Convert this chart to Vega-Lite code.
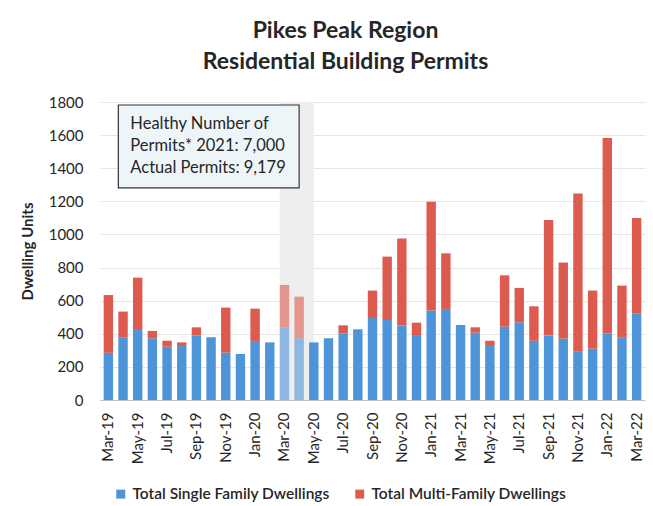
{
  "$schema": "https://vega.github.io/schema/vega-lite/v6.json",
  "autosize": "none",
  "width": 545,
  "height": 298,
  "padding": {"left": 100, "top": 102, "right": 8, "bottom": 106},
  "background": "white",
  "config": {
    "font": "Lato",
    "view": {"stroke": null},
    "axis": {"labelFont": "Lato", "titleFont": "Lato"},
    "axisX": {
      "title": null,
      "labelAngle": 270,
      "labelFontSize": 15,
      "labelColor": "#262626",
      "labelPadding": 12,
      "labelOverlap": false,
      "ticks": false,
      "domainColor": "#bfbfbf"
    },
    "axisY": {
      "titleFontSize": 15,
      "titleFontWeight": "bold",
      "titleColor": "#262626",
      "titlePadding": 13,
      "format": "d",
      "tickCount": 12,
      "labelOverlap": false,
      "labelFontSize": 15,
      "labelColor": "#262626",
      "labelPadding": 17,
      "ticks": false,
      "domain": false,
      "gridColor": "#e6e6e6"
    }
  },
  "title": {
    "text": ["Pikes Peak Region", "Residential Building Permits"],
    "fontSize": 23,
    "fontWeight": "bold",
    "color": "#262626",
    "lineHeight": 31,
    "anchor": "middle",
    "dx": -27,
    "offset": 21
  },
  "datasets": {
    "permits": [
      {"month": "Mar-19", "type": "Total Single Family Dwellings", "units": 285},
      {"month": "Mar-19", "type": "Total Multi-Family Dwellings", "units": 349},
      {"month": "Apr-19", "type": "Total Single Family Dwellings", "units": 379},
      {"month": "Apr-19", "type": "Total Multi-Family Dwellings", "units": 155},
      {"month": "May-19", "type": "Total Single Family Dwellings", "units": 429},
      {"month": "May-19", "type": "Total Multi-Family Dwellings", "units": 310},
      {"month": "Jun-19", "type": "Total Single Family Dwellings", "units": 373},
      {"month": "Jun-19", "type": "Total Multi-Family Dwellings", "units": 44},
      {"month": "Jul-19", "type": "Total Single Family Dwellings", "units": 322},
      {"month": "Jul-19", "type": "Total Multi-Family Dwellings", "units": 36},
      {"month": "Aug-19", "type": "Total Single Family Dwellings", "units": 326},
      {"month": "Aug-19", "type": "Total Multi-Family Dwellings", "units": 22},
      {"month": "Sep-19", "type": "Total Single Family Dwellings", "units": 389},
      {"month": "Sep-19", "type": "Total Multi-Family Dwellings", "units": 50},
      {"month": "Oct-19", "type": "Total Single Family Dwellings", "units": 379},
      {"month": "Oct-19", "type": "Total Multi-Family Dwellings", "units": 0},
      {"month": "Nov-19", "type": "Total Single Family Dwellings", "units": 286},
      {"month": "Nov-19", "type": "Total Multi-Family Dwellings", "units": 272},
      {"month": "Dec-19", "type": "Total Single Family Dwellings", "units": 278},
      {"month": "Dec-19", "type": "Total Multi-Family Dwellings", "units": 0},
      {"month": "Jan-20", "type": "Total Single Family Dwellings", "units": 356},
      {"month": "Jan-20", "type": "Total Multi-Family Dwellings", "units": 196},
      {"month": "Feb-20", "type": "Total Single Family Dwellings", "units": 348},
      {"month": "Feb-20", "type": "Total Multi-Family Dwellings", "units": 0},
      {"month": "Mar-20", "type": "Total Single Family Dwellings", "units": 437},
      {"month": "Mar-20", "type": "Total Multi-Family Dwellings", "units": 258},
      {"month": "Apr-20", "type": "Total Single Family Dwellings", "units": 373},
      {"month": "Apr-20", "type": "Total Multi-Family Dwellings", "units": 251},
      {"month": "May-20", "type": "Total Single Family Dwellings", "units": 348},
      {"month": "May-20", "type": "Total Multi-Family Dwellings", "units": 0},
      {"month": "Jun-20", "type": "Total Single Family Dwellings", "units": 373},
      {"month": "Jun-20", "type": "Total Multi-Family Dwellings", "units": 0},
      {"month": "Jul-20", "type": "Total Single Family Dwellings", "units": 403},
      {"month": "Jul-20", "type": "Total Multi-Family Dwellings", "units": 48},
      {"month": "Aug-20", "type": "Total Single Family Dwellings", "units": 427},
      {"month": "Aug-20", "type": "Total Multi-Family Dwellings", "units": 0},
      {"month": "Sep-20", "type": "Total Single Family Dwellings", "units": 495},
      {"month": "Sep-20", "type": "Total Multi-Family Dwellings", "units": 166},
      {"month": "Oct-20", "type": "Total Single Family Dwellings", "units": 483},
      {"month": "Oct-20", "type": "Total Multi-Family Dwellings", "units": 383},
      {"month": "Nov-20", "type": "Total Single Family Dwellings", "units": 451},
      {"month": "Nov-20", "type": "Total Multi-Family Dwellings", "units": 524},
      {"month": "Dec-20", "type": "Total Single Family Dwellings", "units": 387},
      {"month": "Dec-20", "type": "Total Multi-Family Dwellings", "units": 80},
      {"month": "Jan-21", "type": "Total Single Family Dwellings", "units": 540},
      {"month": "Jan-21", "type": "Total Multi-Family Dwellings", "units": 658},
      {"month": "Feb-21", "type": "Total Single Family Dwellings", "units": 550},
      {"month": "Feb-21", "type": "Total Multi-Family Dwellings", "units": 336},
      {"month": "Mar-21", "type": "Total Single Family Dwellings", "units": 453},
      {"month": "Mar-21", "type": "Total Multi-Family Dwellings", "units": 0},
      {"month": "Apr-21", "type": "Total Single Family Dwellings", "units": 407},
      {"month": "Apr-21", "type": "Total Multi-Family Dwellings", "units": 32},
      {"month": "May-21", "type": "Total Single Family Dwellings", "units": 326},
      {"month": "May-21", "type": "Total Multi-Family Dwellings", "units": 32},
      {"month": "Jun-21", "type": "Total Single Family Dwellings", "units": 443},
      {"month": "Jun-21", "type": "Total Multi-Family Dwellings", "units": 310},
      {"month": "Jul-21", "type": "Total Single Family Dwellings", "units": 469},
      {"month": "Jul-21", "type": "Total Multi-Family Dwellings", "units": 208},
      {"month": "Aug-21", "type": "Total Single Family Dwellings", "units": 358},
      {"month": "Aug-21", "type": "Total Multi-Family Dwellings", "units": 208},
      {"month": "Sep-21", "type": "Total Single Family Dwellings", "units": 389},
      {"month": "Sep-21", "type": "Total Multi-Family Dwellings", "units": 699},
      {"month": "Oct-21", "type": "Total Single Family Dwellings", "units": 371},
      {"month": "Oct-21", "type": "Total Multi-Family Dwellings", "units": 459},
      {"month": "Nov-21", "type": "Total Single Family Dwellings", "units": 292},
      {"month": "Nov-21", "type": "Total Multi-Family Dwellings", "units": 955},
      {"month": "Dec-21", "type": "Total Single Family Dwellings", "units": 310},
      {"month": "Dec-21", "type": "Total Multi-Family Dwellings", "units": 351},
      {"month": "Jan-22", "type": "Total Single Family Dwellings", "units": 403},
      {"month": "Jan-22", "type": "Total Multi-Family Dwellings", "units": 1180},
      {"month": "Feb-22", "type": "Total Single Family Dwellings", "units": 379},
      {"month": "Feb-22", "type": "Total Multi-Family Dwellings", "units": 312},
      {"month": "Mar-22", "type": "Total Single Family Dwellings", "units": 524},
      {"month": "Mar-22", "type": "Total Multi-Family Dwellings", "units": 576}
    ],
    "shade": [{"start": "Mar-20", "end": "May-20", "low": 0, "high": 1800}],
    "note": [{"start": "Apr-19", "end": "Apr-20", "low": 1281, "high": 1782, "y": 1745,
      "label": "Healthy Number of\nPermits* 2021: 7,000\nActual Permits: 9,179"}]
  },
  "layer": [
    {
      "data": {"name": "shade"},
      "mark": {"type": "rect", "color": "#eeeeee"},
      "encoding": {
        "x": {
          "field": "start", "type": "nominal", "bandPosition": 0,
          "scale": {
            "domain": ["Mar-19","Apr-19","May-19","Jun-19","Jul-19","Aug-19","Sep-19","Oct-19","Nov-19","Dec-19","Jan-20","Feb-20","Mar-20","Apr-20","May-20","Jun-20","Jul-20","Aug-20","Sep-20","Oct-20","Nov-20","Dec-20","Jan-21","Feb-21","Mar-21","Apr-21","May-21","Jun-21","Jul-21","Aug-21","Sep-21","Oct-21","Nov-21","Dec-21","Jan-22","Feb-22","Mar-22"],
            "paddingInner": 0.36, "paddingOuter": 0.25
          },
          "axis": {
            "title": null,
            "values": ["Mar-19","May-19","Jul-19","Sep-19","Nov-19","Jan-20","Mar-20","May-20","Jul-20","Sep-20","Nov-20","Jan-21","Mar-21","May-21","Jul-21","Sep-21","Nov-21","Jan-22","Mar-22"]
          }
        },
        "x2": {"field": "end"},
        "y": {
          "field": "low", "type": "quantitative",
          "scale": {"domain": [0, 1800], "nice": false, "zero": true},
          "axis": {
            "title": "Dwelling Units",
            "tickCount": 12,
            "values": [0,200,400,600,800,1000,1200,1400,1600,1800]
          }
        },
        "y2": {"field": "high"}
      }
    },
    {
      "data": {"name": "permits"},
      "mark": {"type": "bar"},
      "encoding": {
        "x": {"field": "month", "type": "nominal", "title": null},
        "y": {"field": "units", "type": "quantitative", "stack": "zero", "title": "Dwelling Units"},
        "color": {
          "field": "type", "type": "nominal",
          "sort": ["Total Single Family Dwellings", "Total Multi-Family Dwellings"],
          "scale": {"domain": ["Total Single Family Dwellings", "Total Multi-Family Dwellings"], "range": ["#4e94d8", "#dc5a4e"]},
          "legend": {
            "title": null,
            "orient": "none",
            "direction": "horizontal",
            "legendX": 13,
            "legendY": 384,
            "symbolType": "square",
            "symbolSize": 80,
            "labelFontSize": 15.5,
            "labelFontWeight": 600,
            "labelColor": "#262626",
            "labelLimit": 300,
            "labelOffset": 4,
            "columnPadding": 22
          }
        },
        "order": {"field": "type", "sort": "descending"},
        "opacity": {"condition": {"test": "datum.month === 'Mar-20' || datum.month === 'Apr-20'", "value": 0.6}, "value": 1}
      }
    },
    {
      "data": {"name": "note"},
      "mark": {"type": "rect", "fill": "#eef5f9", "stroke": "#333333", "strokeWidth": 1.2},
      "encoding": {
        "x": {"field": "start", "type": "nominal", "bandPosition": 0, "title": null},
        "x2": {"field": "end", "offset": 10},
        "y": {"field": "low", "type": "quantitative", "title": "Dwelling Units"},
        "y2": {"field": "high"}
      }
    },
    {
      "data": {"name": "note"},
      "mark": {"type": "text", "align": "left", "baseline": "top", "lineBreak": "\n", "fontSize": 16.5, "lineHeight": 22, "color": "#262626", "dx": 12, "dy": 5},
      "encoding": {
        "x": {"field": "start", "type": "nominal", "bandPosition": 0, "title": null},
        "y": {"field": "y", "type": "quantitative", "title": "Dwelling Units"},
        "text": {"field": "label"}
      }
    }
  ]
}
